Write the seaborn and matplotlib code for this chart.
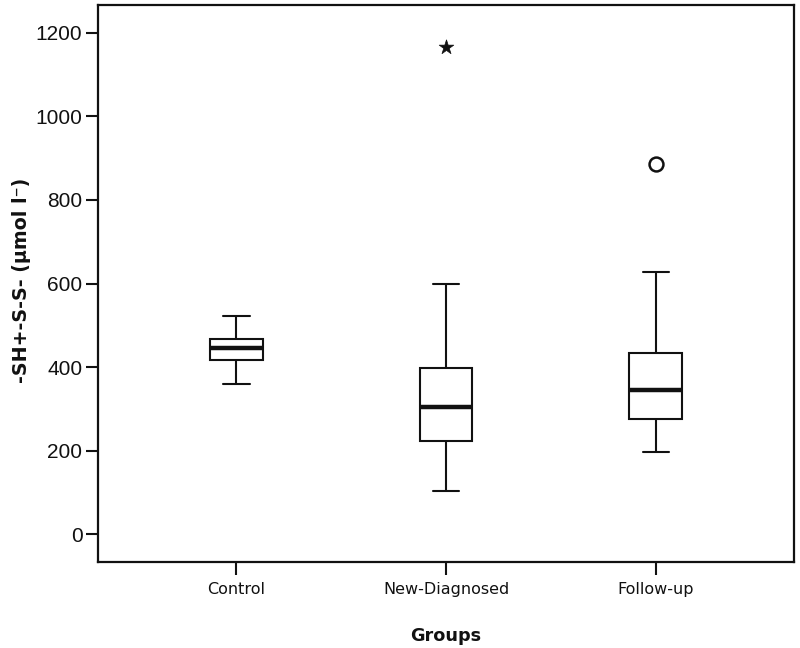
import matplotlib
matplotlib.use("Agg")
import matplotlib.pyplot as plt
import numpy as np
import pandas as pd
import seaborn as sns

# ---- data ----
groups = ["Control", "New-Diagnosed", "Follow-up"]
whisker_low = [360, 104, 197]
q1 = [418, 224, 276]
median = [446, 305, 345]
q3 = [467, 397, 433]
whisker_high = [522, 599, 627]

extreme_group = ["New-Diagnosed"]
extreme_value = [1165]
outlier_group = ["Follow-up"]
outlier_value = [886]

yticks = [0, 200, 400, 600, 800, 1000, 1200]

# build a table whose five-number summary reproduces the boxes
rows = []
for g, lo, a, m, b, hi in zip(groups, whisker_low, q1, median, q3, whisker_high):
    for v in [lo, a, a, m, m, b, b, hi, hi]:
        rows.append((g, v))
df = pd.DataFrame(rows, columns=["group", "value"])

sns.set_style("ticks")
plt.rcParams["font.family"] = ["DejaVu Sans"]

fig = plt.figure(figsize=(8, 6.48), dpi=100)
ax = fig.add_axes([0.1221, 0.1327, 0.8704, 0.8596])

sns.boxplot(data=df, x="group", y="value", order=groups, width=0.25,
            showfliers=False, color="white", linecolor="#111111",
            linewidth=1.5, whis=1.5,
            medianprops=dict(linewidth=3.2, color="#111111"),
            ax=ax)

sns.stripplot(x=outlier_group, y=outlier_value, order=groups, jitter=False,
              marker="o", size=10, color="white", edgecolor="#111111",
              linewidth=1.8, ax=ax, zorder=5)
sns.stripplot(x=extreme_group, y=extreme_value, order=groups, jitter=False,
              marker="*", size=11, color="#111111", edgecolor="#111111",
              linewidth=0.5, ax=ax, zorder=5)

ax.set_xlim(-0.662, 2.66)
ax.set_ylim(-66.3, 1266.3)
ax.set_yticks(yticks)
ax.set_yticklabels([str(v) for v in yticks], fontfamily="Liberation Sans",
                   fontsize=15)
ax.set_xticks(range(len(groups)))
ax.set_xticklabels(groups, fontfamily="DejaVu Sans", fontsize=11.5)

ax.tick_params(axis="y", length=9, width=1.5, pad=2, colors="#111111")
ax.tick_params(axis="x", length=9, width=1.5, pad=5.5, colors="#111111")
for s in ax.spines.values():
    s.set_visible(True)
    s.set_linewidth(1.6)
    s.set_color("#111111")

ax.set_xlabel("Groups", fontsize=12.7, fontweight="bold", color="#111111")
ax.set_ylabel("-SH+-S-S- (\u00b5mol l\u207b)", fontsize=13.7,
              fontweight="bold", color="#111111")
ax.xaxis.set_label_coords(0.5, -0.116)
ax.yaxis.set_label_coords(-0.096, 0.505)

fig.savefig("out.png", dpi=100)
